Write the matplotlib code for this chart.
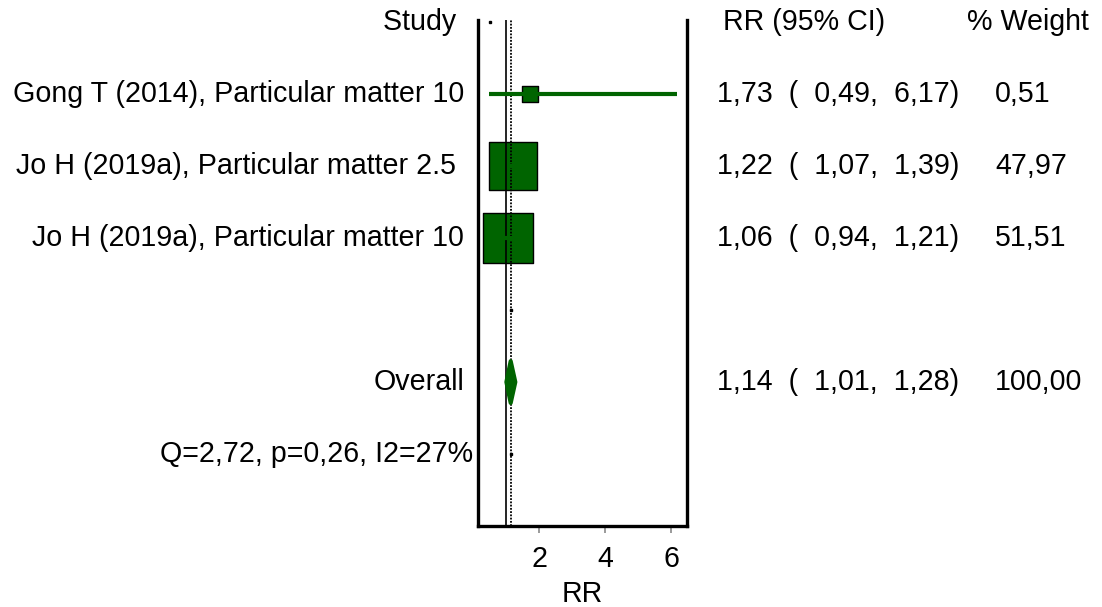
import matplotlib
matplotlib.use("Agg")
import matplotlib.pyplot as plt
import numpy as np
from matplotlib import transforms
from matplotlib.patches import Polygon

# study-level estimates (risk ratios)
studies = ["Gong T (2014), Particular matter 10",
           "Jo H (2019a), Particular matter 2.5 ",
           "Jo H (2019a), Particular matter 10"]
rr = [1.73, 1.22, 1.06]
ci_lo = [0.49, 1.07, 0.94]
ci_hi = [6.17, 1.39, 1.21]
weights = [0.51, 47.97, 51.51]

# pooled estimate and heterogeneity
overall_rr = 1.14
overall_lo = 1.01
overall_hi = 1.28
overall_weight = 100.00
het_label = "Q=2,72, p=0,26, I2=27%"

xticks = [2, 4, 6]

GREEN = "#006400"
FS = 20.6
W, H = 1102, 607

plt.rcParams["font.family"] = ["Liberation Sans", "DejaVu Sans"]


def fmt(v):
    return f"{v:.2f}".replace(".", ",")


fig = plt.figure(figsize=(W / 100, H / 100), dpi=100)
ax = fig.add_axes([478 / W, 1 - 526 / H, (687 - 478) / W, (526 - 20) / H])

n = len(studies)
rows = np.arange(1, n + 1)
overall_row = n + 2
het_row = n + 3

ax.set_xlim(0.15, 6.48)
ax.set_ylim(het_row + 1, -0.03)

# reference lines: no effect and pooled estimate
ax.axvline(1.0, color="black", lw=1.2, zorder=3)
ax.axvline(overall_rr, color="black", lw=1.3, ls=(0, (1, 0.8)), zorder=3)

# weight boxes (area ~ weight, with a floor so tiny studies stay visible)
side = np.maximum(11.5, 5.0 * np.sqrt(weights))
ax.scatter(rr, rows, s=side ** 2, marker="s", color=GREEN,
           edgecolor="black", linewidth=1.0, zorder=2)
for y, lo, hi in zip(rows, ci_lo, ci_hi):
    ax.plot([lo, hi], [y, y], color=GREEN, lw=3, solid_capstyle="butt", zorder=4)

# pooled diamond
dh = 0.29
ax.add_patch(Polygon([[overall_lo, overall_row], [overall_rr, overall_row - dh],
                      [overall_hi, overall_row], [overall_rr, overall_row + dh]],
                     closed=True, facecolor=GREEN, edgecolor=GREEN, lw=3,
                     joinstyle="round", zorder=5))

# placeholder markers on the empty rows
ax.plot([0.5], [0], marker="s", ms=1.8, color="black", ls="none", zorder=5)
ax.plot([overall_rr, overall_rr], [n + 1, het_row], marker="s", ms=2.0,
        color="black", ls="none", zorder=5)

for s in ["left", "right", "bottom"]:
    ax.spines[s].set_linewidth(2.4)
ax.spines["top"].set_visible(False)
ax.set_yticks([])
ax.set_xticks(xticks)
ax.set_xticklabels([str(t) for t in xticks], fontsize=FS)
ax.tick_params(axis="x", length=5, width=1.4, color="#9a9a9a", pad=9)
ax.set_xlabel("RR", fontsize=FS, labelpad=5)

# text columns
tr = transforms.blended_transform_factory(fig.transFigure, ax.transData)
lab_x = 464 / W
est_x = 717 / W
wt_x = 995 / W

fig.text(lab_x, 0, "Study ", transform=tr, ha="right", va="center", fontsize=FS)
fig.text(723 / W, 0, "RR (95% CI)", transform=tr, ha="left", va="center", fontsize=FS)
fig.text(967 / W, 0, "% Weight", transform=tr, ha="left", va="center", fontsize=FS)

for y, name, r, lo, hi, w in zip(rows, studies, rr, ci_lo, ci_hi, weights):
    fig.text(lab_x, y, name, transform=tr, ha="right", va="center", fontsize=FS)
    fig.text(est_x, y, f"{fmt(r)}  (  {fmt(lo)},  {fmt(hi)})", transform=tr,
             ha="left", va="center", fontsize=FS)
    fig.text(wt_x, y, fmt(w), transform=tr, ha="left", va="center", fontsize=FS)

fig.text(lab_x, overall_row, "Overall", transform=tr, ha="right", va="center", fontsize=FS)
fig.text(est_x, overall_row,
         f"{fmt(overall_rr)}  (  {fmt(overall_lo)},  {fmt(overall_hi)})",
         transform=tr, ha="left", va="center", fontsize=FS)
fig.text(wt_x, overall_row, fmt(overall_weight), transform=tr, ha="left",
         va="center", fontsize=FS)
fig.text(473 / W, het_row, het_label, transform=tr, ha="right", va="center", fontsize=FS)

fig.savefig("out.png", dpi=100, facecolor="white")
